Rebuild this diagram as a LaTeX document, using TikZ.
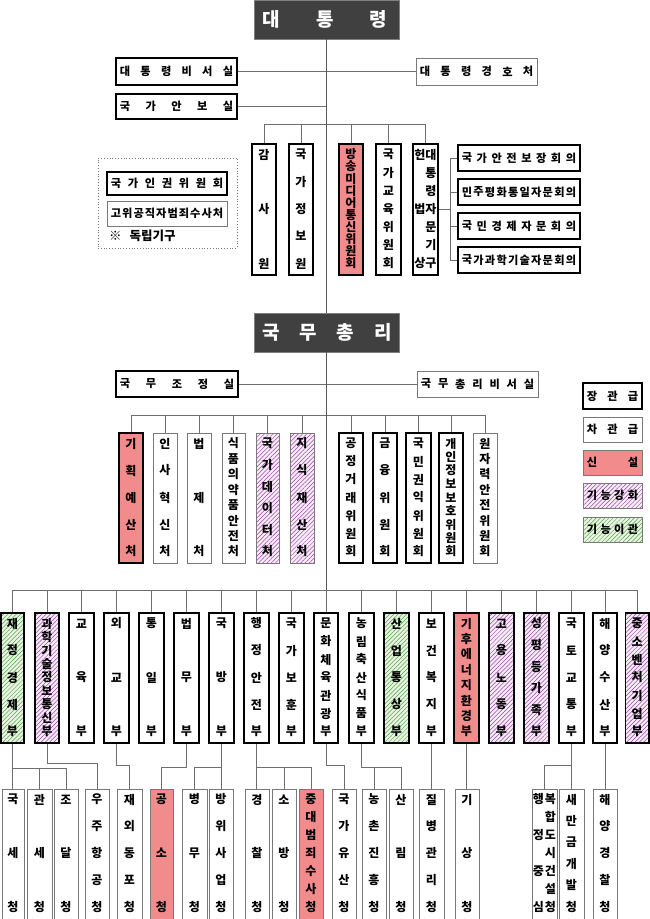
\documentclass[tikz,border=0pt]{standalone}
\usepackage{fontspec}
\setmainfont{Noto Sans CJK KR}
\usetikzlibrary{fit,patterns.meta}
\definecolor{newred}{RGB}{242,140,140}
\definecolor{enhbg}{RGB}{250,236,250}
\definecolor{enhline}{RGB}{150,70,160}
\definecolor{movbg}{RGB}{232,245,225}
\definecolor{movline}{RGB}{90,160,80}
\definecolor{darkbox}{RGB}{64,64,64}
\definecolor{linegray}{RGB}{110,110,110}
\definecolor{thingray}{RGB}{120,120,120}
\tikzset{
 x=1pt,y=-1pt,
 vch/.style={font=\fontsize{12}{12}\selectfont\bfseries, inner sep=0pt},
 hch/.style={font=\fontsize{11.2}{11.2}\selectfont\bfseries, inner sep=0pt},
 boxA/.style={draw=black, line width=1.5pt, fill=white},
 boxB/.style={draw=thingray, line width=0.8pt, fill=white},
 newf/.style={fill=newred},
 enh/.style={preaction={fill=enhbg}, pattern={Lines[angle=45,distance=3pt,line width=0.5pt]}, pattern color=enhline},
 mov/.style={preaction={fill=movbg}, pattern={Lines[angle=45,distance=3pt,line width=0.5pt]}, pattern color=movline},
 conn/.style={draw=linegray, line width=1pt},
 mainconn/.style={draw=linegray!80!black, line width=1.6pt},
 dark/.style={fill=darkbox, draw=gray, line width=0.5pt},
 bigw/.style={font=\fontsize{19}{19}\selectfont\bfseries, text=white, inner sep=0pt},
}
% vertical box: name, x1, y1, x2, y2, style, n, chars
\newcommand{\VB}[8]{%
  \node[#6, fit={(#2,#3)(#4,#5)}, inner sep=0pt] (#1) {};
  \foreach \c [count=\i] in {#8} {
    \pgfmathsetmacro\yy{#3+10.5+(\i-1)*(#5-#3-22)/(#7-1)}
    \node[vch] at ({(#2+#4)/2},\yy) {\c};
  }}
% agency box (runs past the bottom edge)
\newcommand{\GB}[6]{%
  \node[#4, fit={(#2,789)(#3,932)}, inner sep=0pt] (#1) {};
  \foreach \c [count=\i] in {#6} {
    \pgfmathsetmacro\yy{799.5+(\i-1)*107/(#5-1)}
    \node[vch] at ({(#2+#3)/2},\yy) {\c};
  }}
% horizontal box
\newcommand{\HB}[8]{%
  \node[#6, fit={(#2,#3)(#4,#5)}, inner sep=0pt] (#1) {};
  \foreach \c [count=\i] in {#8} {
    \pgfmathsetmacro\xx{#2+9+(\i-1)*(#4-#2-18)/(#7-1)}
    \node[hch] at (\xx,{(#3+#5)/2}) {\c};
  }}
\begin{document}
\begin{tikzpicture}
\useasboundingbox (0,0) rectangle (650,919);
\clip (0,0) rectangle (650,919);
\fill[white] (0,0) rectangle (650,919);

% ---------- President ----------
\node[dark, fit={(254,0)(399,39)}, inner sep=0pt] (pres) {};
\node[bigw] (prest) at (325,19.5) {대\hspace{36pt}통\hspace{36pt}령};
\HB{sec}{116}{58}{237}{85}{boxA}{6}{대,통,령,비,서,실}
\HB{guard}{416}{58}{537}{85}{boxB}{6}{대,통,령,경,호,처}
\HB{nsa}{116}{94}{237}{119}{boxA}{5}{국,가,안,보,실}

% committees
\VB{audit}{252}{144}{276}{275}{boxA}{3}{감,사,원}
\VB{nis}{289}{144}{313}{275}{boxA}{5}{국,가,정,보,원}
\VB{kcc}{339}{144}{363}{275}{boxA,newf}{10}{방,송,미,디,어,통,신,위,원,회}
\VB{nec}{376}{144}{401}{275}{boxA}{7}{국,가,교,육,위,원,회}
\node[boxA, fit={(413,144)(438,275)}, inner sep=0pt] (const) {};
\foreach \c [count=\i] in {대,통,령,자,문,기,구} {
  \pgfmathsetmacro\yy{154.5+(\i-1)*109/6}
  \node[vch] at (431,\yy) {\c};
}
\node[vch] (constl1) at (420,154.5) {헌};
\node[vch] (constl2) at (420,209) {법};
\node[vch] (constl3) at (420,263.5) {상};

% advisory councils
\HB{a1}{458}{145}{580}{171}{boxA}{8}{국,가,안,전,보,장,회,의}
\HB{a2}{458}{179}{580}{205}{boxA}{10}{민,주,평,화,통,일,자,문,회,의}
\HB{a3}{458}{213}{580}{239}{boxA}{8}{국,민,경,제,자,문,회,의}
\HB{a4}{458}{247}{580}{273}{boxA}{10}{국,가,과,학,기,술,자,문,회,의}

% independent bodies
\node[draw=thingray, dotted, line width=0.8pt, fit={(98,158)(237,248)}, inner sep=0pt] (indep) {};
\HB{hr}{107}{172}{227}{195}{boxA}{7}{국,가,인,권,위,원,회}
\HB{cio}{107}{201}{227}{226}{boxB}{10}{고,위,공,직,자,범,죄,수,사,처}
\node[font=\fontsize{12.5}{12.5}\selectfont\bfseries, inner sep=0pt, anchor=west] (note) at (109,236) {※\hspace{8pt}독립기구};

% ---------- Prime Minister ----------
\node[dark, fit={(254,313)(399,352)}, inner sep=0pt] (pm) {};
\node[bigw] (pmt) at (327,332.5) {국\hspace{20pt}무\hspace{20pt}총\hspace{20pt}리};
\HB{opc}{116}{371}{238}{397}{boxA}{5}{국,무,조,정,실}
\HB{pmsec}{417}{371}{538}{397}{boxB}{7}{국,무,총,리,비,서,실}

% ministries-level agencies under PM
\VB{c1}{119}{433}{143}{563}{boxA,newf}{5}{기,획,예,산,처}
\VB{c2}{153}{433}{177}{563}{boxB}{5}{인,사,혁,신,처}
\VB{c3}{187}{433}{211}{563}{boxB}{3}{법,제,처}
\VB{c4}{222}{433}{245}{563}{boxB}{8}{식,품,의,약,품,안,전,처}
\VB{c5}{256}{433}{279}{563}{boxB,enh}{6}{국,가,데,이,터,처}
\VB{c6}{290}{433}{314}{563}{boxB,enh}{5}{지,식,재,산,처}
\VB{c7}{339}{433}{363}{563}{boxA}{7}{공,정,거,래,위,원,회}
\VB{c8}{373}{433}{397}{563}{boxA}{5}{금,융,위,원,회}
\VB{c9}{406}{433}{431}{563}{boxA}{7}{국,민,권,익,위,원,회}
\VB{c10}{439}{433}{463}{563}{boxA}{9}{개,인,정,보,보,호,위,원,회}
\VB{c11}{473}{433}{497}{563}{boxB}{8}{원,자,력,안,전,위,원,회}

% legend
\HB{l1}{583}{383}{642}{409}{boxA}{3}{장,관,급}
\HB{l2}{583}{417}{642}{442}{boxB}{3}{차,관,급}
\HB{l3}{583}{450}{642}{475}{boxB,newf}{2}{신,설}
\HB{l4}{583}{483}{642}{508}{boxB,enh}{4}{기,능,강,화}
\HB{l5}{583}{517}{642}{542}{boxB,mov}{4}{기,능,이,관}

% ---------- Ministries ----------
\VB{m1}{1}{613}{24}{743}{boxA,mov}{5}{재,정,경,제,부}
\VB{m2}{35}{613}{59}{743}{boxA,enh}{9}{과,학,기,술,정,보,통,신,부}
\VB{m3}{69}{613}{94}{743}{boxA}{3}{교,육,부}
\VB{m4}{104}{613}{129}{743}{boxA}{3}{외,교,부}
\VB{m5}{139}{613}{164}{743}{boxA}{3}{통,일,부}
\VB{m6}{174}{613}{199}{743}{boxA}{3}{법,무,부}
\VB{m7}{209}{613}{234}{743}{boxA}{3}{국,방,부}
\VB{m8}{244}{613}{269}{743}{boxA}{5}{행,정,안,전,부}
\VB{m9}{279}{613}{304}{743}{boxA}{5}{국,가,보,훈,부}
\VB{m10}{314}{613}{338}{743}{boxA}{7}{문,화,체,육,관,광,부}
\VB{m11}{349}{613}{374}{743}{boxA}{7}{농,림,축,산,식,품,부}
\VB{m12}{384}{613}{409}{743}{boxA,mov}{5}{산,업,통,상,부}
\VB{m13}{419}{613}{444}{743}{boxA}{5}{보,건,복,지,부}
\VB{m14}{454}{613}{479}{743}{boxA,newf}{8}{기,후,에,너,지,환,경,부}
\VB{m15}{489}{613}{514}{743}{boxA,enh}{5}{고,용,노,동,부}
\VB{m16}{524}{613}{549}{743}{boxA,enh}{6}{성,평,등,가,족,부}
\VB{m17}{559}{613}{584}{743}{boxA}{5}{국,토,교,통,부}
\VB{m18}{593}{613}{617}{743}{boxA}{5}{해,양,수,산,부}
\VB{m19}{625.5}{613}{649}{743}{boxA,enh}{7}{중,소,벤,처,기,업,부}

% ---------- Agencies ----------
\GB{g1}{2}{24}{boxB}{3}{국,세,청}
\GB{g2}{27}{52}{boxB}{3}{관,세,청}
\GB{g3}{54}{78}{boxB}{3}{조,달,청}
\GB{g4}{85}{109}{boxB}{5}{우,주,항,공,청}
\GB{g5}{117}{142}{boxB}{5}{재,외,동,포,청}
\GB{g6}{150}{173}{boxB,newf}{3}{공,소,청}
\GB{g7}{182}{207}{boxB}{3}{병,무,청}
\GB{g8}{209}{233}{boxB}{5}{방,위,사,업,청}
\GB{g9}{245}{269}{boxB}{3}{경,찰,청}
\GB{g10}{272}{296}{boxB}{3}{소,방,청}
\GB{g11}{299}{323}{boxB,newf}{7}{중,대,범,죄,수,사,청}
\GB{g12}{332}{356}{boxB}{5}{국,가,유,산,청}
\GB{g13}{362}{386}{boxB}{5}{농,촌,진,흥,청}
\GB{g14}{389}{413}{boxB}{3}{산,림,청}
\GB{g15}{419}{444}{boxB}{5}{질,병,관,리,청}
\GB{g16}{455}{479}{boxB}{3}{기,상,청}
\node[boxB, fit={(532,789)(557,932)}, inner sep=0pt] (g17) {};
\foreach \c [count=\i] in {복,합,도,시,건,설,청} {
  \pgfmathsetmacro\yy{799.5+(\i-1)*107/6}
  \node[vch] at (550.5,\yy) {\c};
}
\foreach \c [count=\i] in {행,정,중,심} {
  \pgfmathsetmacro\yy{799.5+(\i-1)*107/3}
  \node[vch] at (538.5,\yy) {\c};
}
\GB{g18}{559}{584}{boxB}{6}{새,만,금,개,발,청}
\GB{g19}{593}{617}{boxB}{5}{해,양,경,찰,청}

% ---------- Connectors ----------
\coordinate (cbus) at (0,124);
\coordinate (pbus) at (0,415);
\coordinate (mbus) at (0,590);
\coordinate (brk) at (450,209);
\coordinate (yA) at (0,768);
\coordinate (yB) at (0,763);
\coordinate (yC) at (0,765);
\coordinate (yD) at (0,767);

\draw[conn] (sec.east) -- (guard.west);
\draw[conn] (nsa.east) -- (nsa.east -| pres.south);
\draw[conn] (audit.north |- cbus) -- (const.north |- cbus);
\foreach \n in {audit,nis,kcc,nec,const} \draw[conn] (\n.north |- cbus) -- (\n.north);
\draw[conn] (const.east |- brk) -- (brk);
\draw[conn] (a1.west -| brk) -- (a4.west -| brk);
\foreach \n in {a1,a2,a3,a4} \draw[conn] (\n.west -| brk) -- (\n.west);

\draw[conn] (opc.east) -- (pmsec.west);
\draw[conn] (c1.north |- pbus) -- (c11.north |- pbus);
\foreach \n in {1,...,11} \draw[conn] (c\n.north |- pbus) -- (c\n.north);

\draw[conn] (m1.north |- mbus) -- (m19.north |- mbus);
\foreach \n in {1,...,19} \draw[conn] (m\n.north |- mbus) -- (m\n.north);

\draw[mainconn] (pres.south) -- (pm.north);
\draw[mainconn] (pm.south) -- (pm.south |- mbus);

% ministry -> agency
\draw[conn] (m1.south) -- (m1.south |- g1.north);
\draw[conn] (m1.south |- yA) -- (g3.north |- yA);
\draw[conn] (g2.north |- yA) -- (g2.north);
\draw[conn] (g3.north |- yA) -- (g3.north);
\draw[conn] (m2.south) -- (m2.south |- yB) -- (g4.north |- yB) -- (g4.north);
\draw[conn] (m4.south) -- (m4.south |- yC) -- (g5.north |- yC) -- (g5.north);
\draw[conn] (m6.south) -- (m6.south |- yD) -- (g6.north |- yD) -- (g6.north);
\draw[conn] (m7.south) -- (m7.south |- g8.north);
\draw[conn] (g7.north) -- (g7.north |- yD) -- (m7.south |- yD);
\draw[conn] (m8.south) -- (m8.south |- g9.north);
\draw[conn] (m8.south |- yD) -- (g11.north |- yD);
\draw[conn] (g10.north |- yD) -- (g10.north);
\draw[conn] (g11.north |- yD) -- (g11.north);
\draw[conn] (m10.south) -- (m10.south |- yC) -- (g12.north |- yC) -- (g12.north);
\draw[conn] (m11.south) -- (m11.south |- yD) -- (g14.north |- yD) -- (g14.north);
\draw[conn] (g13.north |- yD) -- (g13.north);
\draw[conn] (m13.south) -- (m13.south |- g15.north);
\draw[conn] (m14.south) -- (m14.south |- g16.north);
\draw[conn] (m17.south) -- (m17.south |- g18.north);
\draw[conn] (g17.north) -- (g17.north |- yC) -- (m17.south |- yC);
\draw[conn] (m18.south) -- (m18.south |- g19.north);
\end{tikzpicture}
\end{document}
